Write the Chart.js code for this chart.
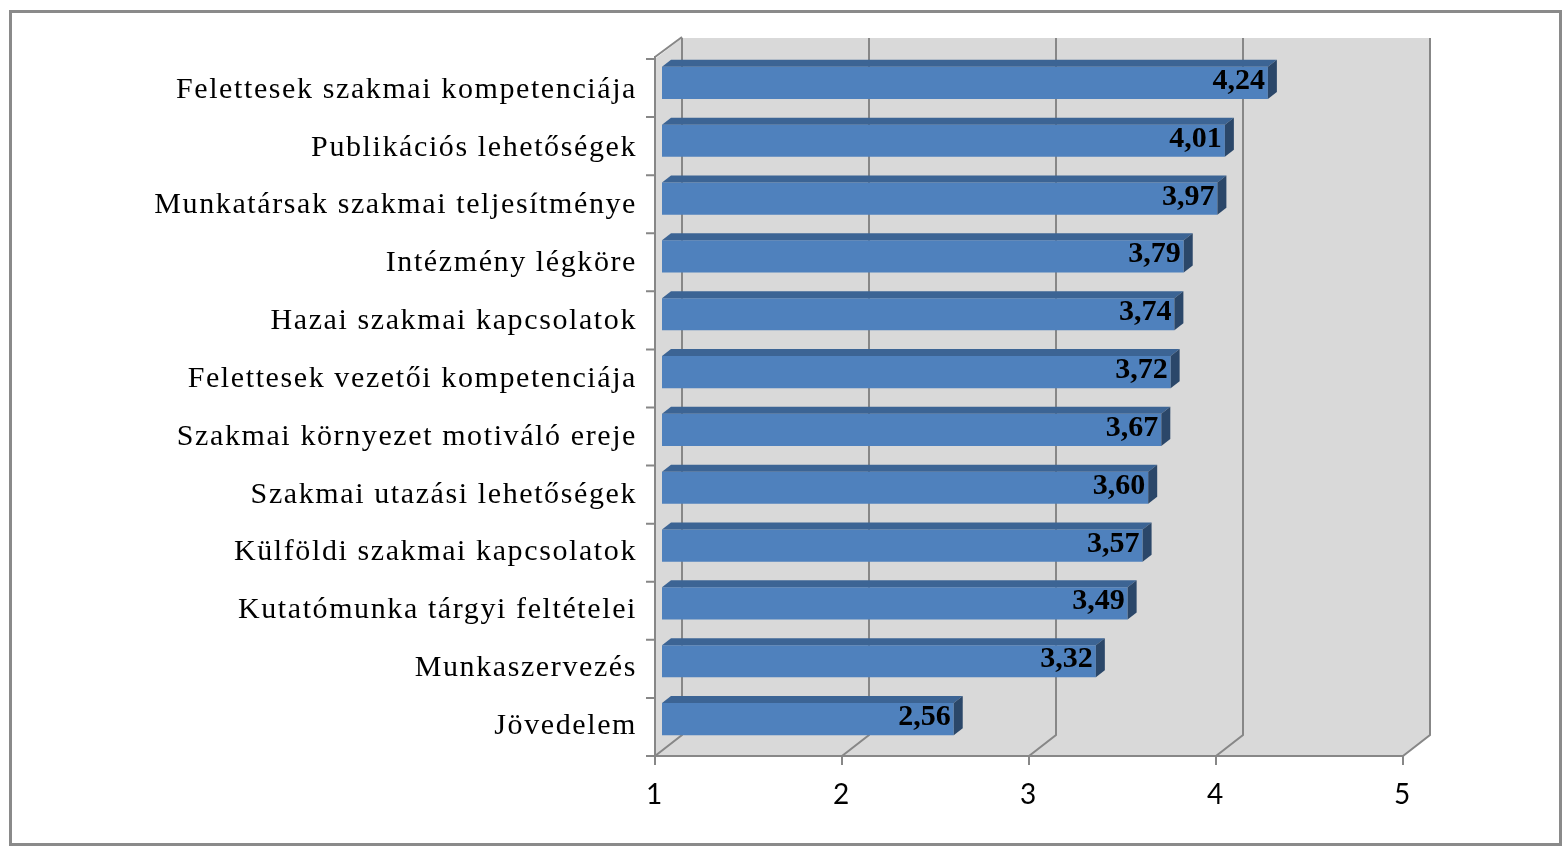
<!DOCTYPE html>
<html>
<head>
<meta charset="utf-8">
<script src="https://cdn.jsdelivr.net/npm/chart.js@4/dist/chart.umd.min.js"></script>
<style>
  html, body { margin: 0; padding: 0; background: #fff; }
  #wrap { width: 1566px; height: 850px; }
</style>
</head>
<body>
<div id="wrap"><canvas id="chart" width="1566" height="850"></canvas></div>
<script>
const categories = [
  'Felettesek szakmai kompetenciája',
  'Publikációs lehetőségek',
  'Munkatársak szakmai teljesítménye',
  'Intézmény légköre',
  'Hazai szakmai kapcsolatok',
  'Felettesek vezetői kompetenciája',
  'Szakmai környezet motiváló ereje',
  'Szakmai utazási lehetőségek',
  'Külföldi szakmai kapcsolatok',
  'Kutatómunka tárgyi feltételei',
  'Munkaszervezés',
  'Jövedelem'
];
const values = [4.24, 4.01, 3.97, 3.79, 3.74, 3.72, 3.67, 3.60, 3.57, 3.49, 3.32, 2.56];
const xMin = 1, xMax = 5;

// 3d look: front plane offset from the bar plane, back wall offset from front plane
const FRONT_DX = -7, FRONT_DY_TOP = 5, FRONT_DY_BOT = 8;
const BACK_DX = 27, BACK_DY = -21;
const BAR_DX = 9, BAR_DY = -7;
const wallColor = '#d9d9d9';
const lineColor = '#878787';

const fmt = v => v.toFixed(2).replace('.', ',');

const walls3d = {
  id: 'walls3d',
  beforeDraw(chart) {
    const ctx = chart.ctx;
    const area = chart.chartArea;
    const xs = chart.scales.x;
    ctx.save();
    ctx.fillStyle = '#fff';
    ctx.fillRect(0, 0, chart.width, chart.height);

    // outer frame
    ctx.strokeStyle = '#8a8a8a';
    ctx.lineWidth = 3;
    ctx.strokeRect(10.5, 11.5, 1550, 833);

    const fL = xs.getPixelForValue(xMin) + FRONT_DX;
    const fR = xs.getPixelForValue(xMax) + FRONT_DX;
    const fT = area.top + FRONT_DY_TOP;
    const fB = area.bottom + FRONT_DY_BOT;
    const bL = fL + BACK_DX, bR = fR + BACK_DX, bT = fT + BACK_DY, bB = fB + BACK_DY;

    // walls + floor
    ctx.fillStyle = wallColor;
    ctx.beginPath();
    ctx.moveTo(fL, fT); ctx.lineTo(bL, bT); ctx.lineTo(bR, bT);
    ctx.lineTo(bR, bB); ctx.lineTo(fR, fB); ctx.lineTo(fL, fB);
    ctx.closePath();
    ctx.fill();

    ctx.strokeStyle = lineColor;
    ctx.lineWidth = 2;
    ctx.beginPath();
    for (let v = xMin; v <= xMax; v++) {
      const fx = xs.getPixelForValue(v) + FRONT_DX;
      const bx = fx + BACK_DX;
      ctx.moveTo(fx, fB); ctx.lineTo(bx, bB); ctx.lineTo(bx, bT);
      // tick mark below the front axis
      ctx.moveTo(fx, fB); ctx.lineTo(fx, fB + 9);
    }
    // front axes
    ctx.moveTo(fL, fB); ctx.lineTo(fR, fB);
    ctx.moveTo(fL, fB + 1); ctx.lineTo(fL, fT - 3);
    ctx.moveTo(fL, fT - 2); ctx.lineTo(bL, bT - 1);
    const n = categories.length;
    for (let i = 0; i <= n; i++) {
      const y = fT + (fB - fT) * i / n;
      ctx.moveTo(fL - 9, y); ctx.lineTo(fL, y);
    }
    ctx.stroke();
    ctx.restore();
    // category labels in the original are spaced out a little
    ctx.letterSpacing = '1.6px';
  },
  afterDatasetsDraw(chart) {
    const ctx = chart.ctx;
    const meta = chart.getDatasetMeta(0);
    ctx.save();
    ctx.letterSpacing = '0px';
    meta.data.forEach((bar, i) => {
      const h = bar.height;
      const x0 = bar.base, x1 = bar.x;
      const yT = bar.y - h / 2, yB = bar.y + h / 2;
      // top face
      ctx.fillStyle = '#3c6494';
      ctx.beginPath();
      ctx.moveTo(x0, yT); ctx.lineTo(x0 + BAR_DX, yT + BAR_DY);
      ctx.lineTo(x1 + BAR_DX, yT + BAR_DY); ctx.lineTo(x1, yT);
      ctx.closePath(); ctx.fill();
      // side face
      ctx.fillStyle = '#2b4769';
      ctx.beginPath();
      ctx.moveTo(x1, yT); ctx.lineTo(x1 + BAR_DX, yT + BAR_DY);
      ctx.lineTo(x1 + BAR_DX, yB + BAR_DY); ctx.lineTo(x1, yB);
      ctx.closePath(); ctx.fill();
      // value label
      ctx.fillStyle = '#000';
      ctx.font = 'bold 30px "Liberation Serif", "Times New Roman", serif';
      ctx.textAlign = 'right';
      ctx.textBaseline = 'alphabetic';
      ctx.fillText(fmt(values[i]), x1 - 3, bar.y + 6);
    });
    ctx.restore();
  },
  afterDraw(chart) {
    chart.ctx.letterSpacing = '0px';
  }
};

new Chart(document.getElementById('chart'), {
  type: 'bar',
  data: {
    labels: categories,
    datasets: [{
      data: values,
      base: xMin,
      backgroundColor: '#4f81bd',
      borderWidth: 0,
      barPercentage: 0.555,
      categoryPercentage: 1
    }]
  },
  options: {
    indexAxis: 'y',
    responsive: false,
    animation: false,
    layout: { padding: { top: 54, right: 156, bottom: 0, left: 0 } },
    plugins: { legend: { display: false }, tooltip: { enabled: false } },
    scales: {
      x: {
        min: xMin, max: xMax,
        grid: { display: false, drawTicks: false },
        border: { display: false },
        ticks: {
          stepSize: 1,
          labelOffset: FRONT_DX,
          padding: 30,
          color: '#000',
          font: { family: 'Lato, "Open Sans", sans-serif', size: 28 }
        },
        afterFit(scale) { scale.height = 102; }
      },
      y: {
        grid: { display: false, drawTicks: false },
        border: { display: false },
        ticks: {
          labelOffset: 7,
          padding: 25,
          color: '#000',
          font: { family: '"Liberation Serif", "Times New Roman", serif', size: 30 }
        },
        afterFit(scale) { scale.width = 662; }
      }
    }
  },
  plugins: [walls3d]
});
</script>
</body>
</html>
